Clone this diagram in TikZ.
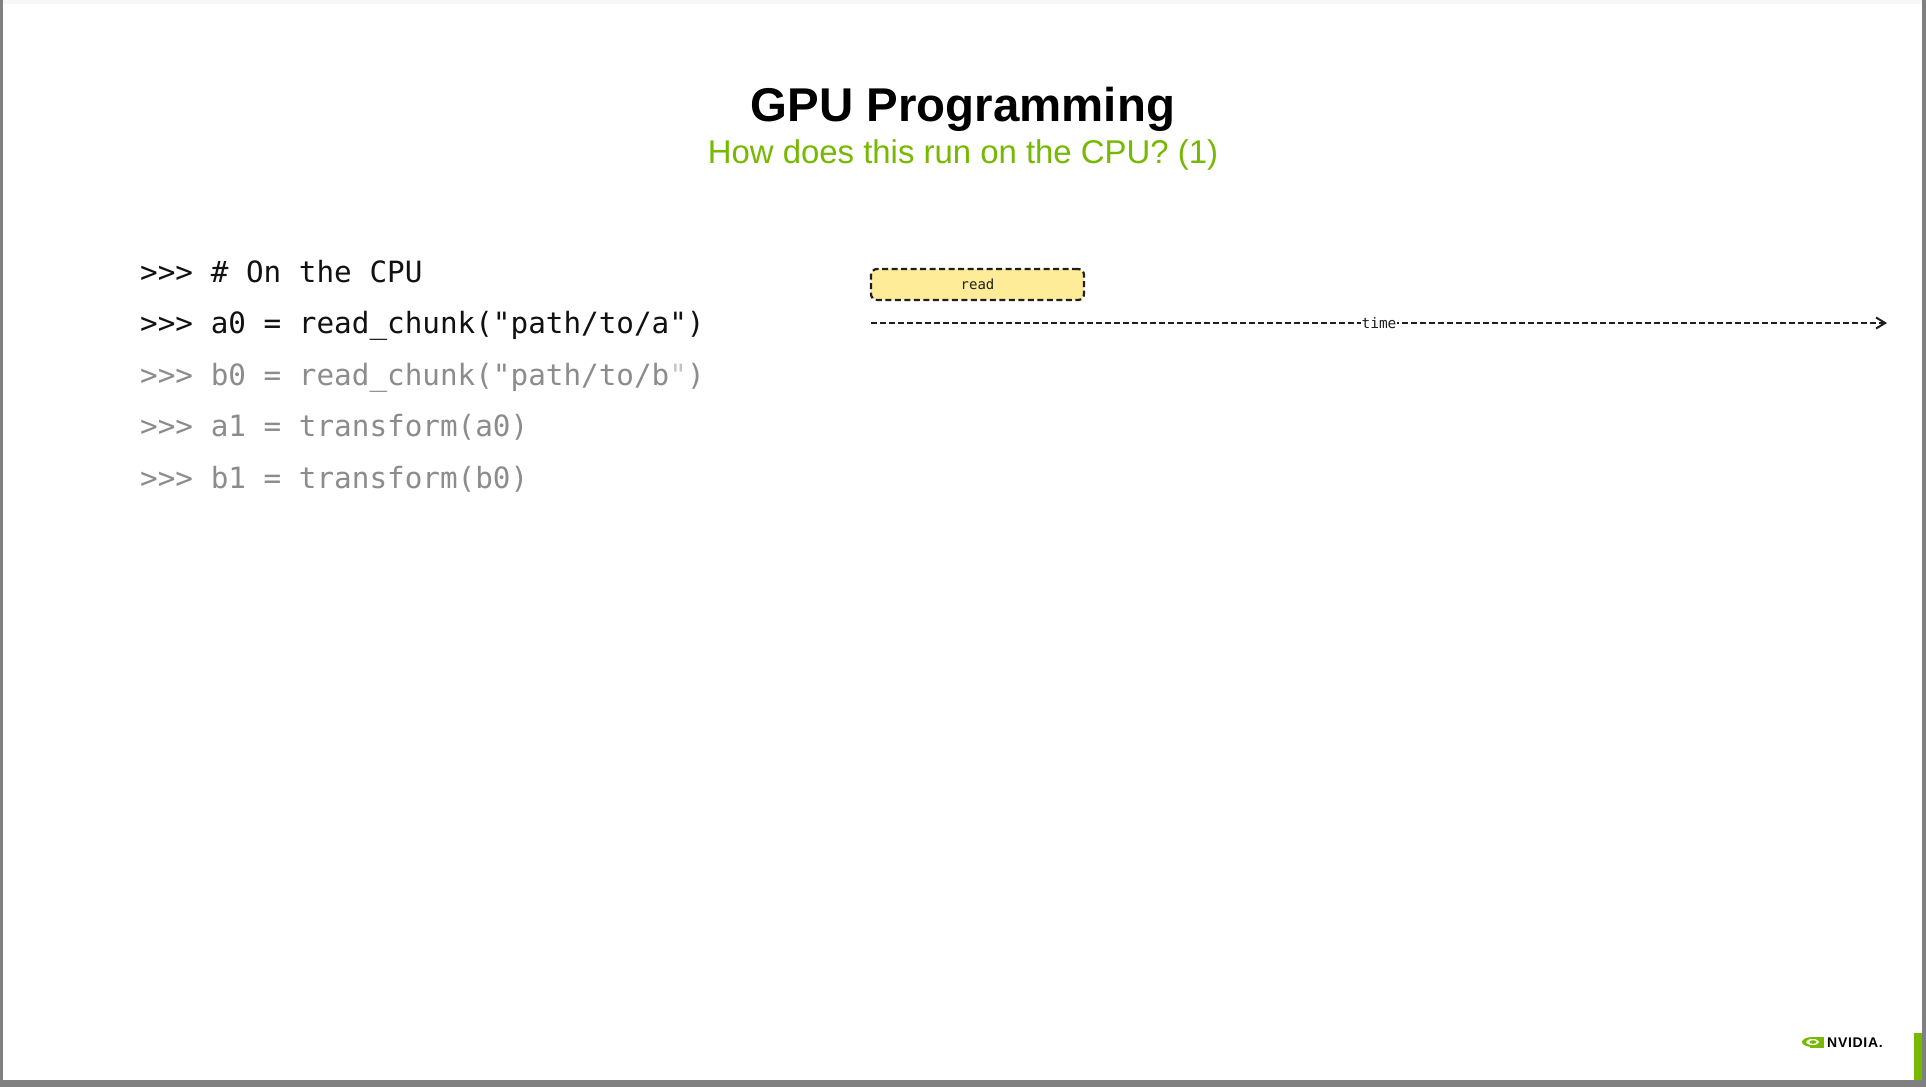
\documentclass[tikz,border=0pt]{standalone}
\usepackage{fontspec}
\setmainfont{Liberation Sans}
\newfontfamily\codefont{DejaVu Sans Mono}
\usetikzlibrary{arrows.meta}
\definecolor{nvgreen}{HTML}{76B900}
\definecolor{codeblack}{HTML}{111111}
\definecolor{codegray}{HTML}{8C8C8C}
\definecolor{lightq}{HTML}{C4C4C4}
\definecolor{readfill}{HTML}{FFEC99}
\definecolor{ink}{HTML}{1E1E1E}
\definecolor{framegray}{HTML}{808080}
\begin{document}
\begin{tikzpicture}[x=1pt,y=-1pt,
  codeline/.style={anchor=base west, inner sep=0pt, font=\codefont\fontsize{29.3}{29.3}\selectfont},
  titlestyle/.style={anchor=base, inner sep=0pt, font=\bfseries\fontsize{47.4}{47.4}\selectfont},
  subtitlestyle/.style={anchor=base, inner sep=0pt, text=nvgreen, font=\fontsize{32.9}{32.9}\selectfont},
  readbox/.style={draw=ink, fill=readfill, line width=2.2pt, dash pattern=on 6pt off 3.5pt,
    rounded corners=6pt, minimum width=213pt, minimum height=31pt, inner sep=0pt,
    font=\codefont\fontsize{14}{14}\selectfont, text=ink},
  timeline/.style={draw=ink, line width=1.8pt, dash pattern=on 5.5pt off 3.5pt,
    -{Straight Barb[length=9pt,width=11pt,line width=2pt]}},
  timelabel/.style={fill=white, inner xsep=1pt, inner ysep=2pt, text=ink, font=\codefont\fontsize{14.5}{14.5}\selectfont}
]
\useasboundingbox (0,0) rectangle (1926,1087);
\fill[white] (0,0) rectangle (1926,1087);
% frame
\fill[framegray] (0,0) rectangle (3,1087);
\fill[framegray] (1922,0) rectangle (1926,1087);
\fill[framegray] (0,1080) rectangle (1926,1087);
\fill[black!3] (3,0) rectangle (1922,4);
% green bar
\fill[nvgreen] (1914,1033) rectangle (1922,1080);

% titles
\node[titlestyle] (title) at (963,121) {GPU Programming};
\node[subtitlestyle] (subtitle) at (963,163) {How does this run on the CPU? (1)};

% code
\node[codeline, text=codeblack] (l1) at (140,282) {>>> \# On the CPU};
\node[codeline, text=codeblack] (l2) at (140,333.5) {>>> a0 = read\_chunk("path/to/a")};
\node[codeline, text=codegray] (l3) at (140,385) {>>> b0 = read\_chunk("path/to/b\textcolor{lightq}{"})};
\node[codeline, text=codegray] (l4) at (140,436.5) {>>> a1 = transform(a0)};
\node[codeline, text=codegray] (l5) at (140,488) {>>> b1 = transform(b0)};

% timeline
\node[readbox] (read) at (977.5,284.5) {read};
\coordinate (t0) at (871,323);
\coordinate (t1) at (1887,323);
\draw[timeline] (t0) -- (t1) node[midway, timelabel] (time) {time};

% NVIDIA logo
\fill[nvgreen] (1810,1036.5) rectangle (1823.5,1047.5);
\fill[nvgreen] (1812.5,1042) ellipse [x radius=10.5pt, y radius=5pt];
\fill[white] (1812.5,1042) ellipse [x radius=6.5pt, y radius=3pt];
\fill[nvgreen] (1813,1042) ellipse [x radius=3.5pt, y radius=1.8pt];
\node[anchor=base west, inner sep=0pt, font=\bfseries\fontsize{14}{14}\selectfont] (nvlogo) at (1827,1047.5) {\addfontfeature{LetterSpace=5}NVIDIA.};
\end{tikzpicture}
\end{document}
